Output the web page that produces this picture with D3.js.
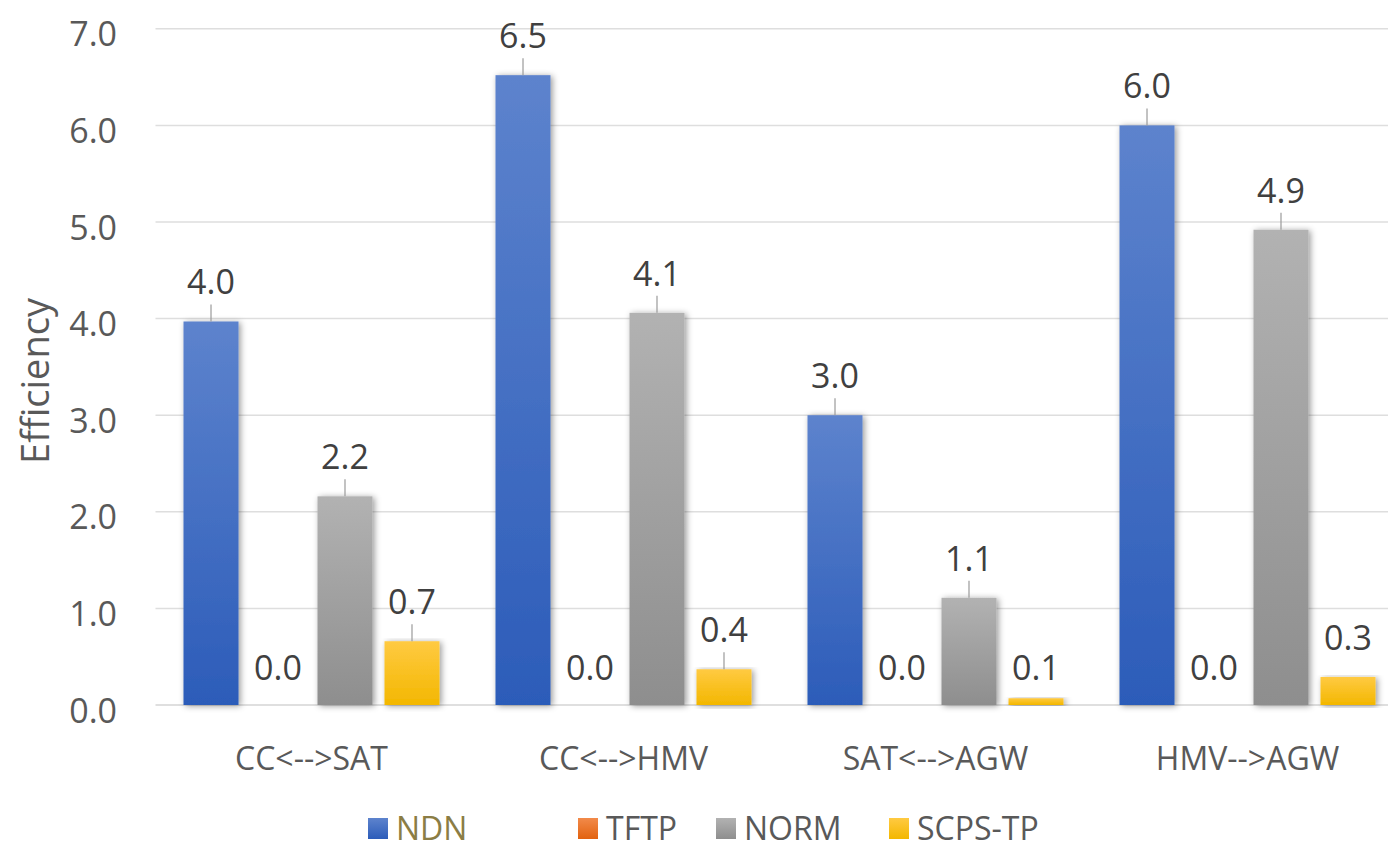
<!DOCTYPE html>
<html>
<head>
<meta charset="utf-8">
<script src="https://cdn.jsdelivr.net/npm/d3@7"></script>
<style>
  html, body { margin: 0; padding: 0; background: #fff; }
  svg { display: block; font-family: "Open Sans", "Liberation Sans", sans-serif; }
</style>
</head>
<body>
<svg id="chart" width="1388" height="848"></svg>
<script>
// Link pairs on the x axis
const categories = ["CC<-->SAT", "CC<-->HMV", "SAT<-->AGW", "HMV-->AGW"];
// Protocols, one bar each per link
const series = ["NDN", "TFTP", "NORM", "SCPS-TP"];
// Efficiency values per protocol, in category order
const ndnValues   = [3.97, 6.52, 3.00, 6.00];
const tftpValues  = [0.00, 0.00, 0.00, 0.00];
const normValues  = [2.16, 4.06, 1.11, 4.92];
const scpsValues  = [0.66, 0.37, 0.07, 0.29];
// Y axis ticks
const yTicks = [0, 1, 2, 3, 4, 5, 6, 7];
const yTitle = "Efficiency";

const valuesBySeries = [ndnValues, tftpValues, normValues, scpsValues];
const rows = [];
categories.forEach((c, ci) => {
  series.forEach((s, si) => rows.push({ category: c, series: s, value: valuesBySeries[si][ci] }));
});

const colors = {
  "NDN":     ["#5d83cd", "#2c5cb9"],
  "TFTP":    ["#f28a4a", "#e2620f"],
  "NORM":    ["#b2b2b2", "#8e8e8e"],
  "SCPS-TP": ["#ffca42", "#f3b700"]
};

const svg = d3.select("#chart");
const defs = svg.append("defs");

Object.entries(colors).forEach(([name, [top, bottom]], i) => {
  const g = defs.append("linearGradient")
    .attr("id", "grad" + i).attr("x1", 0).attr("y1", 0).attr("x2", 0).attr("y2", 1);
  g.append("stop").attr("offset", "0%").attr("stop-color", top);
  g.append("stop").attr("offset", "100%").attr("stop-color", bottom);
});
const gradId = s => "url(#grad" + series.indexOf(s) + ")";

const shadow = defs.append("filter").attr("id", "shadow")
  .attr("x", "-20%").attr("y", "-5%").attr("width", "150%").attr("height", "115%");
shadow.append("feDropShadow")
  .attr("dx", 2).attr("dy", 1).attr("stdDeviation", 3)
  .attr("flood-color", "#000").attr("flood-opacity", 0.4);

// Scales
const y = d3.scaleLinear().domain([0, 7]).range([705, 28.8]);
const x0 = d3.scaleBand().domain(categories).range([155.5, 1403.5]).padding(0);
const x1 = d3.scaleBand().domain(series)
  .range([28, x0.bandwidth() - 28]).paddingInner(0.179).paddingOuter(0);
const fmt = d3.format(".1f");

// Gridlines
svg.append("g").selectAll("line").data(yTicks).join("line")
  .attr("x1", 155.5).attr("x2", 1388)
  .attr("y1", d => y(d)).attr("y2", d => y(d))
  .attr("stroke", d => d === 0 ? "#d4d4d4" : "#dedede")
  .attr("stroke-width", 1.5);

// Y tick labels
const yAxis = d3.axisLeft(y).tickValues(yTicks).tickFormat(fmt).tickSize(0).tickPadding(0);
const yg = svg.append("g").attr("transform", "translate(117,0)").call(yAxis);
yg.select(".domain").remove();
yg.selectAll("text")
  .attr("font-family", "Open Sans, sans-serif")
  .attr("font-size", 34).attr("fill", "#595959")
  .attr("dy", 17);

// Y title
svg.append("text")
  .attr("transform", "translate(49,381) rotate(-90)")
  .attr("text-anchor", "middle")
  .attr("font-size", 38).attr("fill", "#595959")
  .text(yTitle);

// Category labels
const xAxis = d3.axisBottom(x0).tickSize(0).tickPadding(0);
const xg = svg.append("g").attr("transform", "translate(0,770)").call(xAxis);
xg.select(".domain").remove();
xg.selectAll("text")
  .attr("font-family", "Open Sans, sans-serif")
  .attr("font-size", 32).attr("fill", "#595959")
  .attr("dy", 0).attr("y", 0);

// Bars
const groups = svg.append("g").selectAll("g").data(categories).join("g")
  .attr("transform", d => `translate(${x0(d)},0)`);

groups.selectAll("rect")
  .data(c => rows.filter(r => r.category === c && r.value > 0))
  .join("rect")
  .attr("x", d => x1(d.series))
  .attr("width", x1.bandwidth())
  .attr("y", d => y(d.value))
  .attr("height", d => y(0) - y(d.value))
  .attr("fill", d => gradId(d.series))
  .attr("filter", "url(#shadow)");

// Leader lines for labels lifted clear of the bar
groups.selectAll("line.leader")
  .data(c => rows.filter(r => r.category === c && r.value >= 0.35))
  .join("line").attr("class", "leader")
  .attr("x1", d => x1(d.series) + x1.bandwidth() / 2)
  .attr("x2", d => x1(d.series) + x1.bandwidth() / 2)
  .attr("y1", d => y(d.value))
  .attr("y2", d => y(d.value) - 17)
  .attr("stroke", "#9a9a9a").attr("stroke-width", 1.2);

// Value labels (small bars keep their label level with the zero labels)
groups.selectAll("text.value")
  .data(c => rows.filter(r => r.category === c))
  .join("text").attr("class", "value")
  .attr("x", d => x1(d.series) + x1.bandwidth() / 2)
  .attr("y", d => d.value < 0.2 ? y(0) - 25 : y(d.value) - 27)
  .attr("text-anchor", "middle")
  .attr("font-size", 34).attr("fill", "#404040")
  .text(d => fmt(d.value));

// Legend
const legendX = [368, 578, 716, 889];
const legend = svg.append("g").selectAll("g").data(series).join("g")
  .attr("transform", (d, i) => `translate(${legendX[i]},818)`);
legend.append("rect")
  .attr("width", 20).attr("height", 21)
  .attr("fill", d => gradId(d));
legend.append("text")
  .attr("x", 28).attr("y", 22)
  .attr("font-size", 32)
  .attr("fill", d => d === "NDN" ? "#8b7d45" : "#595959")
  .text(d => d);
</script>
</body>
</html>
